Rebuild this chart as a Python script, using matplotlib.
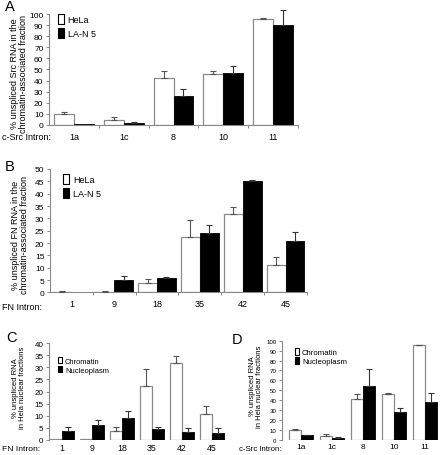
import matplotlib
matplotlib.use("Agg")
import matplotlib.pyplot as plt
from matplotlib.patches import Patch
import numpy as np

plt.rcParams["font.family"] = ["Liberation Sans", "DejaVu Sans"]

# ---------- data ----------
SRC_INTRONS = ["1a", "1c", "8", "10", "11"]
FN_INTRONS = ["1", "9", "18", "35", "42", "45"]

# A: c-Src, chromatin-associated fraction
a_hela = [10, 4.5, 42, 46, 95.5]
a_hela_err = [1.5, 2.3, 7, 3, 0.5]
a_lan5 = [1, 2, 26.5, 46.5, 90.5]
a_lan5_err = [0, 0.6, 6, 7, 13]

# B: FN, chromatin-associated fraction
b_hela = [0.3, 0.3, 3.7, 22.3, 31.8, 11]
b_hela_err = [0.2, 0.2, 1.7, 7.2, 3.0, 3.2]
b_lan5 = [0.2, 5.2, 5.8, 24, 45, 21]
b_lan5_err = [0, 1.4, 0.3, 3.5, 0.6, 3.5]

# C: FN, HeLa nuclear fractions
c_chrom = [0.3, 0.3, 3.8, 22.2, 31.7, 10.9]
c_chrom_err = [0, 0, 1.6, 7.1, 3.0, 3.2]
c_nucleo = [3.6, 6, 9, 4.7, 3.5, 3]
c_nucleo_err = [1.8, 2.4, 3, 0.7, 1.3, 1.8]

# D: c-Src, HeLa nuclear fractions
d_chrom = [10, 4.5, 41.4, 46.3, 95.3]
d_chrom_err = [1, 1.8, 4.5, 1, 0.3]
d_nucleo = [4.7, 2, 54.5, 28, 38.7]
d_nucleo_err = [0.5, 1.2, 16.5, 4.5, 9]

GRAY = "#8a8a8a"
ERR = "#555555"


def draw_pair(ax, cats, white, white_err, black, black_err, width):
    x = np.arange(len(cats))
    ax.bar(x - width / 2, white, width, color="white", edgecolor=GRAY, linewidth=0.9, zorder=2)
    ax.bar(x + width / 2, black, width, color="black", edgecolor="black", linewidth=0.6, zorder=2)
    for xs, v, e, col in ((x - width / 2, white, white_err, ERR), (x + width / 2, black, black_err, "#333333")):
        e = np.array(e, dtype=float)
        keep = e > 0
        eb = ax.errorbar(xs[keep], np.array(v)[keep], yerr=[np.zeros(keep.sum()), e[keep]],
                         fmt="none", ecolor=col, elinewidth=0.8, capsize=2, capthick=0.8, zorder=3)
        for ln in eb.lines[1]:
            ln.set_clip_on(False)
        for lc in eb.lines[2]:
            lc.set_clip_on(False)
    return x


def style(ax, cats, ylim, step, tick_fs, bottom_spine, xlim, xpad, xfs):
    ax.set_xlim(*xlim)
    ax.set_ylim(*ylim)
    ax.set_yticks(np.arange(ylim[0], ylim[1] + 0.1, step))
    ax.tick_params(axis="y", labelsize=tick_fs, length=2.5, width=0.7, color=GRAY, pad=1.5)
    ax.set_xticks(np.arange(len(cats)))
    ax.set_xticklabels(cats, fontsize=xfs)
    ax.tick_params(axis="x", length=0, pad=xpad)
    for sp in ("top", "right"):
        ax.spines[sp].set_visible(False)
    ax.spines["left"].set_color(GRAY)
    ax.spines["left"].set_linewidth(0.8)
    if bottom_spine:
        ax.spines["bottom"].set_color(GRAY)
        ax.spines["bottom"].set_linewidth(0.8)
        ax.set_xticks(np.arange(len(cats)) + 0.5, minor=True)
        ax.tick_params(axis="x", which="minor", length=2.5, width=0.7, color=GRAY)
    else:
        ax.spines["bottom"].set_visible(False)


def legend(ax, labels, anchor, fs, hl, hh, sp):
    handles = [Patch(facecolor="white", edgecolor="black", linewidth=0.8),
               Patch(facecolor="black", edgecolor="black", linewidth=0.8)]
    ax.legend(handles, labels, loc="upper left", bbox_to_anchor=anchor, frameon=False,
              fontsize=fs, handlelength=hl, handleheight=hh, handletextpad=0.4,
              labelspacing=sp, borderaxespad=0, borderpad=0)


fig = plt.figure(figsize=(4.42, 4.56), dpi=100)

# ---------- A ----------
axA = fig.add_axes([0.1109, 0.7237, 0.5633, 0.2434])
draw_pair(axA, SRC_INTRONS, a_hela, a_hela_err, a_lan5, a_lan5_err, 0.4)
style(axA, SRC_INTRONS, (0, 100), 10, 6, True, (-0.5, 4.5), 5, 6.5)
axA.set_ylabel("% unspliced Src RNA in the\nchromatin-associated fraction", fontsize=6.5,
               linespacing=1.0)
axA.yaxis.set_label_coords(-0.085, 0.47)
legend(axA, ["HeLa", "LA-N 5"], (0.035, 1.0), 6.5, 0.7, 1.3, 0.45)

# ---------- B ----------
axB = fig.add_axes([0.1131, 0.3564, 0.5814, 0.2708])
draw_pair(axB, FN_INTRONS, b_hela, b_hela_err, b_lan5, b_lan5_err, 0.44)
style(axB, FN_INTRONS, (0, 50), 5, 6, True, (-0.5, 5.5), 5, 6.5)
axB.set_ylabel("% unspliced FN RNA in the\nchromatin-associated fraction", fontsize=6.5,
               linespacing=1.0)
axB.yaxis.set_label_coords(-0.083, 0.47)
legend(axB, ["HeLa", "LA-N 5"], (0.05, 0.96), 6.5, 0.7, 1.3, 0.45)

# ---------- C ----------
axC = fig.add_axes([0.1109, 0.0329, 0.405, 0.2127])
draw_pair(axC, FN_INTRONS, c_chrom, c_chrom_err, c_nucleo, c_nucleo_err, 0.4)
style(axC, FN_INTRONS, (0, 40), 5, 5.8, False, (-0.43, 5.53), 2.5, 6.3)
axC.set_ylabel("% unspliced RNA\nin Hela nuclear fractions", fontsize=5.5,
               linespacing=1.0)
axC.yaxis.set_label_coords(-0.13, 0.55)
legend(axC, ["Chromatin", "Nucleoplasm"], (0.05, 0.86), 5.4, 0.55, 1.0, 0.15)

# ---------- D ----------
axD = fig.add_axes([0.638, 0.0329, 0.36, 0.2178])
draw_pair(axD, SRC_INTRONS, d_chrom, d_chrom_err, d_nucleo, d_nucleo_err, 0.4)
style(axD, SRC_INTRONS, (0, 100), 10, 4.4, False, (-0.61, 4.52), 2.5, 6.0)
axD.set_ylabel("% unspliced RNA\nin Hela nuclear fractions", fontsize=5.5,
               linespacing=1.0)
axD.yaxis.set_label_coords(-0.12, 0.55)
legend(axD, ["Chromatin", "Nucleoplasm"], (0.08, 0.93), 5.6, 0.55, 1.0, 0.15)

# ---------- row labels and panel letters ----------
def px(x, y):
    return x / 442, 1 - y / 456

fig.text(*px(2, 137), "c-Src Intron:", fontsize=6.5, va="center", ha="left")
fig.text(*px(2, 307), "FN Intron:", fontsize=6.5, va="center", ha="left")
fig.text(*px(2, 449.5), "FN Intron:", fontsize=6.1, va="center", ha="left")
fig.text(*px(239, 449.5), "c-Src Intron:", fontsize=5.6, va="center", ha="left")

for letter, (x, y) in (("A", (5, 7)), ("B", (5, 167)), ("C", (6, 338)), ("D", (232, 340))):
    fig.text(*px(x, y), letter, fontsize=10.5, va="center", ha="left")

fig.savefig("out.png", dpi=100)
